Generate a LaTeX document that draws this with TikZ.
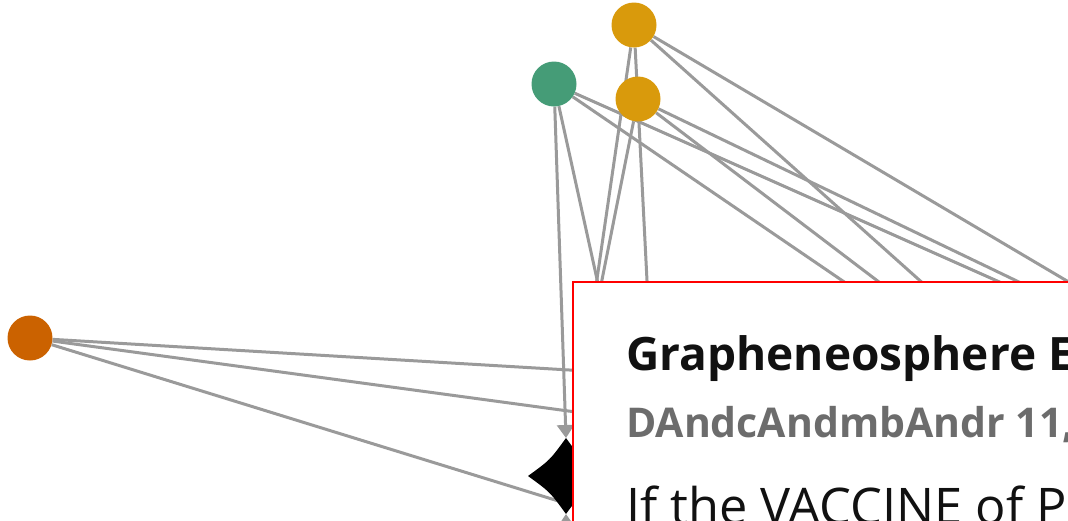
\documentclass[tikz,border=0pt]{standalone}
\usepackage{fontspec}
\setmainfont{Open Sans}
\usepackage{tikz}
\usetikzlibrary{arrows.meta,calc,backgrounds}
\definecolor{graphGold}{HTML}{D99A0C}
\definecolor{graphGreen}{HTML}{459C77}
\definecolor{graphRust}{HTML}{CB6200}
\definecolor{graphLink}{HTML}{9A9A9A}
\definecolor{graphRed}{HTML}{FF0000}
\definecolor{graphMuted}{HTML}{6C6C6C}
\definecolor{graphInk}{HTML}{111111}

\begin{document}
\begin{tikzpicture}[
  x=1pt,y=-1pt,
  dot/.style={circle,fill=#1,minimum size=45pt,inner sep=0pt},
  link/.style={draw=graphLink,line width=3pt},
  arr/.style={link,-{Triangle[length=13pt,width=17pt]}},
  tipbox/.style={draw=graphRed,line width=1.6pt,fill=white,minimum width=700pt,minimum height=400pt,inner sep=0pt},
  label/.style={anchor=base west,inner sep=0pt}
]
  \useasboundingbox (0,0) rectangle (1068,520);
  \clip (0,0) rectangle (1068,520);
  % far ends, hidden under the tooltip
  \coordinate (hA1) at (1133,320);
  \coordinate (hA2) at (964,320);
  \coordinate (hA3) at (591,320);
  \coordinate (hA4) at (649,320);
  \coordinate (hB1) at (1098,320);
  \coordinate (hB2) at (929,320);
  \coordinate (hB3) at (594,320);
  \coordinate (hC1) at (1085,320);
  \coordinate (hC2) at (900,320);
  \coordinate (hC3) at (606,320);
  \coordinate (hD1) at (620,373);
  \coordinate (hD2) at (620,418);
  \coordinate (hD3) at (620,520);
  \coordinate (below) at (567,600);
  \node[dot=graphGold] (goldA) at (634,25) {};
  \node[dot=graphGreen] (green) at (554,84) {};
  \node[dot=graphGold] (goldB) at (638,99) {};
  \node[dot=graphRust] (rust) at (30,338) {};
  \coordinate (star) at (566,476);
  \coordinate (starN) at ($(star)+(0,-38)$);
  \coordinate (starS) at ($(star)+(0,38)$);
  \begin{scope}[on background layer]
    \draw[link] (goldA) -- (hA1);
    \draw[link] (goldA) -- (hA2);
    \draw[link] (goldA) -- (hA3);
    \draw[link] (goldA) -- (hA4);
    \draw[link] (goldB) -- (hB1);
    \draw[link] (goldB) -- (hB2);
    \draw[link] (goldB) -- (hB3);
    \draw[link] (green) -- (hC1);
    \draw[link] (green) -- (hC2);
    \draw[link] (green) -- (hC3);
    \draw[link] (rust) -- (hD1);
    \draw[link] (rust) -- (hD2);
    \draw[link] (rust) -- (hD3);
    \draw[arr] (green) -- (starN);
    \draw[arr] (below) -- (starS);
  \end{scope}
  % the black sparkle
  \fill[black] (starN) .. controls ($(star)+(-16,-16)$) .. ($(star)+(-38,0)$)
    .. controls ($(star)+(-16,16)$) .. (starS)
    .. controls ($(star)+(16,16)$) .. ($(star)+(38,0)$)
    .. controls ($(star)+(16,-16)$) .. cycle;
  % tooltip
  \node[tipbox,anchor=north west] (tip) at (572,281) {};
  \node[label,font=\fontsize{46}{56}\selectfont\bfseries,text=graphInk] (title) at (626,370) {Grapheneosphere E};
  \node[label,font=\fontsize{41}{50}\selectfont\bfseries,text=graphMuted] (date) at (626,437) {DAndcAndmbAndr 11,};
  \node[label,font=\fontsize{50.5}{60}\selectfont,text=graphInk] (body) at (626,524) {If the VACCINE of P};
\end{tikzpicture}
\end{document}
